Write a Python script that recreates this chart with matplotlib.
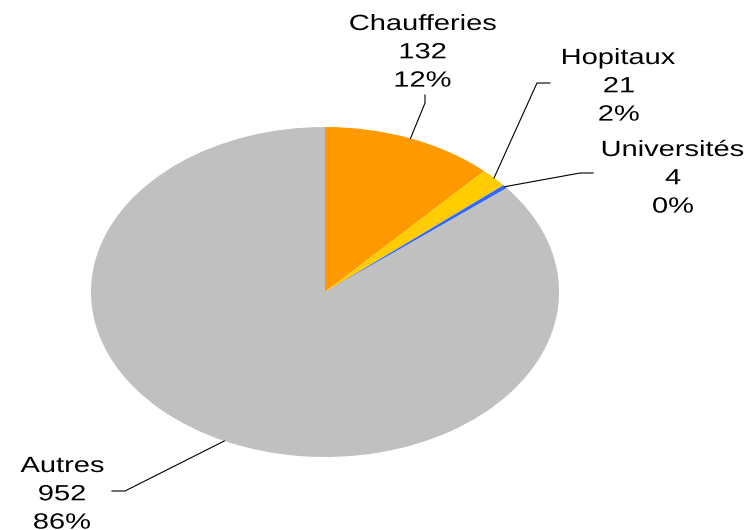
import matplotlib.pyplot as plt
import numpy as np
from matplotlib.textpath import TextPath
from matplotlib.patches import PathPatch
from matplotlib.font_manager import FontProperties
from matplotlib.transforms import Affine2D, IdentityTransform

plt.rcParams['font.family'] = ['Liberation Sans', 'DejaVu Sans']

labels = ['Chaufferies', 'Hopitaux', 'Universités', 'Autres']
values = [132, 21, 4, 952]
colors = ['#FF9900', '#FFCC00', '#3366FF', '#C0C0C0']

W, H = 756, 530
cx, cy, rx, ry = 325, 292, 234, 165

fig = plt.figure(figsize=(W / 100, H / 100), dpi=100)
ax = fig.add_axes([(cx - rx) / W, (H - cy - ry) / H, 2 * rx / W, 2 * ry / H])
wedges, _ = ax.pie(values, colors=colors, startangle=90, counterclock=False,
                   radius=1, wedgeprops=dict(linewidth=0))
ax.set_aspect('auto')
ax.set_xlim(-1, 1)
ax.set_ylim(-1, 1)
ax.axis('off')


def px(x, y):
    # pixel position -> data coords of the pie axes
    return (x - cx) / rx, (cy - y) / ry


fp = FontProperties(family='Liberation Sans')


def stretched_text(s, x, y, size=22, sx=1.32):
    # text is horizontally stretched in the original; draw it as a path
    tp = TextPath((0, 0), s, size=size, prop=fp)
    ext = tp.get_extents()
    w = (ext.x0 + ext.x1) / 2
    tr = Affine2D().translate(-w, 0).scale(sx, 1).translate(x, H - y)
    fig.patches.append(PathPatch(tp, transform=tr + IdentityTransform(),
                                 facecolor='black', edgecolor='none', figure=fig))


# label centre x, first baseline y (px); knee points of leader line (px)
label_pos = [(423, 30), (619, 64), (673, 156), (62, 472)]
knees = [[(425, 95), (425, 103)],
         [(550, 83), (537, 83)],
         [(593, 173), (580, 173)],
         [(112, 491), (125, 491)]]
line_gap = 28.3

total = sum(values)
for w, lab, v, pos, kn in zip(wedges, labels, values, label_pos, knees):
    a = np.deg2rad((w.theta1 + w.theta2) / 2)
    ex, ey = np.cos(a), np.sin(a)
    pts = [px(*k) for k in kn] + [(ex, ey)]
    xs, ys = zip(*pts)
    ax.plot(xs, ys, color='black', lw=0.8, clip_on=False)
    lines = [lab, str(v), f'{v / total * 100:.0f}%']
    for i, s in enumerate(lines):
        stretched_text(s, pos[0], pos[1] + i * line_gap)

fig.savefig('out.png', dpi=100)
